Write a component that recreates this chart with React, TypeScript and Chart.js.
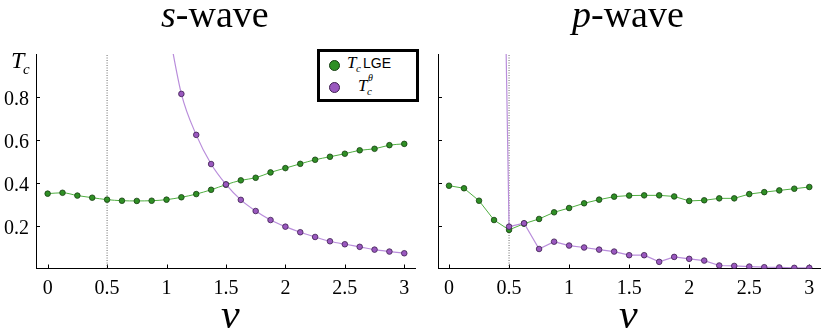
import React, { useEffect, useRef } from 'react';
import { Chart, registerables } from 'chart.js';

Chart.register(...registerables);

// ---------- data ----------
const vValues = [0, 0.125, 0.25, 0.375, 0.5, 0.625, 0.75, 0.875, 1, 1.125, 1.25, 1.375, 1.5, 1.625, 1.75, 1.875, 2, 2.125, 2.25, 2.375, 2.5, 2.625, 2.75, 2.875, 3];

const sWaveLge = [0.349, 0.353, 0.340, 0.330, 0.321, 0.316, 0.315, 0.316, 0.321, 0.332, 0.347, 0.367, 0.391, 0.411, 0.423, 0.448, 0.468, 0.488, 0.507, 0.521, 0.535, 0.551, 0.558, 0.575, 0.581];

// T_c^theta for s-wave: curve enters from the top near v ~ 1
const sThetaV = [1.0, 1.125, 1.25, 1.375, 1.5, 1.625, 1.75, 1.875, 2, 2.125, 2.25, 2.375, 2.5, 2.625, 2.75, 2.875, 3];
const sThetaT = [1.17, 0.814, 0.623, 0.487, 0.392, 0.320, 0.268, 0.226, 0.195, 0.169, 0.147, 0.127, 0.113, 0.101, 0.088, 0.079, 0.071];
const sThetaHidden = [true, false, false, false, false, false, false, false, false, false, false, false, false, false, false, false, false];

const pWaveLge = [0.386, 0.374, 0.316, 0.226, 0.180, 0.209, 0.231, 0.262, 0.282, 0.304, 0.321, 0.335, 0.340, 0.341, 0.341, 0.336, 0.315, 0.318, 0.327, 0.327, 0.347, 0.356, 0.364, 0.372, 0.380];

// T_c^theta for p-wave: diverges just below v = 0.5
const pThetaV = [0.47, 0.5, 0.625, 0.75, 0.875, 1, 1.125, 1.25, 1.375, 1.5, 1.625, 1.75, 1.875, 2, 2.125, 2.25, 2.375, 2.5, 2.625, 2.75, 2.875, 3];
const pThetaT = [1.2, 0.195, 0.211, 0.091, 0.125, 0.107, 0.098, 0.088, 0.079, 0.062, 0.062, 0.031, 0.054, 0.045, 0.037, 0.014, 0.012, 0.009, 0.006, 0.005, 0.003, 0.003];
const pThetaHidden = [true, false, false, false, false, false, false, false, false, false, false, false, false, false, false, false, false, false, false, false, false, false];

const criticalV = [0.5, 0.5];
const criticalT = [0, 1];

const xTickValues = [0, 0.5, 1, 1.5, 2, 2.5, 3];
const xTickLabels = ['0', '0.5', '1', '1.5', '2', '2.5', '3'];
const yTickValues = [0.2, 0.4, 0.6, 0.8];
const yTickLabels = ['0.2', '0.4', '0.6', '0.8'];

// ---------- styles ----------
const SERIF = "'Liberation Serif', 'Times New Roman', serif";
const SANS = "'Liberation Sans', Arial, sans-serif";
const GREEN_FILL = '#2f8f25';
const GREEN_EDGE = '#173f12';
const GREEN_LINE = '#4fae40';
const PURPLE_FILL = '#9a58bf';
const PURPLE_EDGE = '#3e2050';
const PURPLE_LINE = '#b98ddb';

const innerTicks = {
  id: 'innerTicks',
  beforeDatasetsDraw(chart: any) {
    const { ctx, chartArea, scales } = chart;
    ctx.save();
    ctx.strokeStyle = '#000';
    ctx.lineWidth = 1;
    for (const v of xTickValues) {
      const px = Math.round(scales.x.getPixelForValue(v)) + 0.5;
      ctx.beginPath();
      ctx.moveTo(px, chartArea.bottom);
      ctx.lineTo(px, chartArea.bottom - 4);
      ctx.stroke();
    }
    for (const v of yTickValues) {
      const py = Math.round(scales.y.getPixelForValue(v)) + 0.5;
      ctx.beginPath();
      ctx.moveTo(chartArea.left, py);
      ctx.lineTo(chartArea.left + 4, py);
      ctx.stroke();
    }
    ctx.restore();
  },
};

type PanelCfg = {
  lge: number[];
  thetaV: number[];
  thetaT: number[];
  thetaHidden: boolean[];
  smooth: boolean;
  xMin: number;
  xMax: number;
  yAxisWidth: number;
  showYLabels: boolean;
  padRight: number;
};

function buildChart(canvas: HTMLCanvasElement, cfg: PanelCfg) {
  const pointR = 2.8;
  return new Chart(canvas, {
    type: 'line',
    data: {
      datasets: [
        {
          label: 'critical',
          data: criticalV.map((v, i) => ({ x: v, y: criticalT[i] })),
          borderColor: 'rgba(90,90,90,0.9)',
          borderWidth: 1,
          borderDash: [1, 1.5],
          pointRadius: 0,
          order: 3,
        },
        {
          label: 'Tc LGE',
          data: vValues.map((v, i) => ({ x: v, y: cfg.lge[i] })),
          borderColor: GREEN_LINE,
          borderWidth: 1,
          pointRadius: pointR,
          pointBackgroundColor: GREEN_FILL,
          pointBorderColor: GREEN_EDGE,
          pointBorderWidth: 0.8,
          cubicInterpolationMode: cfg.smooth ? 'monotone' : 'default',
          tension: 0,
          order: 2,
        },
        {
          label: 'Tc theta',
          data: cfg.thetaV.map((v, i) => ({ x: v, y: cfg.thetaT[i] })),
          borderColor: PURPLE_LINE,
          borderWidth: 1.2,
          pointRadius: (ctx: any) => (cfg.thetaHidden[ctx.dataIndex] ? 0 : pointR),
          pointBackgroundColor: PURPLE_FILL,
          pointBorderColor: PURPLE_EDGE,
          pointBorderWidth: 0.8,
          cubicInterpolationMode: cfg.smooth ? 'monotone' : 'default',
          tension: 0,
          order: 1,
        },
      ],
    } as any,
    options: {
      animation: false,
      responsive: true,
      maintainAspectRatio: false,
      devicePixelRatio: 1,
      layout: { padding: { top: 54, right: cfg.padRight, left: 0, bottom: 0 } },
      plugins: { legend: { display: false }, tooltip: { enabled: false }, title: { display: false } },
      scales: {
        x: {
          type: 'linear',
          min: cfg.xMin,
          max: cfg.xMax,
          grid: { display: false, drawTicks: false },
          border: { display: true, color: '#000', width: 1 },
          afterBuildTicks: (scale: any) => {
            scale.ticks = xTickValues.map((v) => ({ value: v }));
          },
          afterFit: (scale: any) => {
            scale.height = 61.5;
          },
          ticks: {
            padding: 8,
            maxRotation: 0,
            autoSkip: false,
            color: '#000',
            font: { family: SERIF, size: 20 },
            callback: (value: any) => {
              const i = xTickValues.indexOf(Number(value));
              return i >= 0 ? xTickLabels[i] : '';
            },
          },
        },
        y: {
          type: 'linear',
          min: 0,
          max: 1.0,
          grid: { display: false, drawTicks: false },
          border: { display: true, color: '#000', width: 1 },
          afterBuildTicks: (scale: any) => {
            scale.ticks = yTickValues.map((v) => ({ value: v }));
          },
          afterFit: (scale: any) => {
            scale.width = cfg.yAxisWidth;
          },
          ticks: {
            display: cfg.showYLabels,
            padding: 7,
            labelOffset: 3,
            color: '#000',
            font: { family: SERIF, size: 20 },
            callback: (value: any) => {
              const i = yTickValues.indexOf(Number(value));
              return i >= 0 ? yTickLabels[i] : '';
            },
          },
        },
      },
    } as any,
    plugins: [innerTicks],
  });
}

function Panel(props: { cfg: PanelCfg; left: number; width: number }) {
  const ref = useRef<HTMLCanvasElement | null>(null);
  useEffect(() => {
    if (!ref.current) return;
    const chart = buildChart(ref.current, props.cfg);
    return () => chart.destroy();
  }, []);
  return (
    <div style={{ position: 'absolute', left: props.left, top: 0, width: props.width, height: 330 }}>
      <canvas ref={ref} />
    </div>
  );
}

// text piece positioned by its baseline
function Txt(props: {
  x: number;
  base: number;
  size: number;
  italic?: boolean;
  sans?: boolean;
  children: React.ReactNode;
}) {
  const k = props.sans ? 0.8465 : 0.8375;
  return (
    <div
      style={{
        position: 'absolute',
        left: props.x,
        top: props.base - k * props.size,
        fontSize: props.size,
        lineHeight: `${props.size}px`,
        fontFamily: props.sans ? SANS : SERIF,
        fontStyle: props.italic ? 'italic' : 'normal',
        whiteSpace: 'nowrap',
        color: '#000',
      }}
    >
      {props.children}
    </div>
  );
}

const leftCfg: PanelCfg = {
  lge: sWaveLge,
  thetaV: sThetaV,
  thetaT: sThetaT,
  thetaHidden: sThetaHidden,
  smooth: true,
  xMin: -0.098,
  xMax: 3.092,
  yAxisWidth: 36,
  showYLabels: true,
  padRight: 3,
};

const rightCfg: PanelCfg = {
  lge: pWaveLge,
  thetaV: pThetaV,
  thetaT: pThetaT,
  thetaHidden: pThetaHidden,
  smooth: false,
  xMin: -0.0916,
  xMax: 3.089,
  yAxisWidth: 18,
  showYLabels: false,
  padRight: 11,
};

export default function App() {
  return (
    <div
      style={{
        position: 'absolute',
        left: 0,
        top: 0,
        width: 831,
        height: 330,
        overflow: 'hidden',
        background: '#fff',
      }}
    >
      <Panel cfg={leftCfg} left={0} width={420} />
      <Panel cfg={rightCfg} left={420} width={411} />

      {/* titles */}
      <Txt x={161} base={27} size={38}>
        <span style={{ fontStyle: 'italic' }}>s</span>-wave
      </Txt>
      <Txt x={572} base={27} size={38}>
        <span style={{ fontStyle: 'italic' }}>p</span>-wave
      </Txt>

      {/* x-axis labels */}
      <Txt x={221} base={328} size={42} italic>
        v
      </Txt>
      <Txt x={619} base={328} size={42} italic>
        v
      </Txt>

      {/* y-axis label T_c */}
      <Txt x={11} base={68} size={24} italic>
        T
      </Txt>
      <Txt x={23} base={75} size={15} italic>
        c
      </Txt>

      {/* legend */}
      <div
        style={{
          position: 'absolute',
          left: 317,
          top: 49,
          width: 102,
          height: 53,
          boxSizing: 'border-box',
          border: '3px solid #000',
          background: '#fff',
        }}
      />
      <div
        style={{
          position: 'absolute',
          left: 329,
          top: 59.5,
          width: 11,
          height: 11,
          borderRadius: '50%',
          boxSizing: 'border-box',
          background: GREEN_FILL,
          border: `1px solid ${GREEN_EDGE}`,
        }}
      />
      <div
        style={{
          position: 'absolute',
          left: 329,
          top: 81.5,
          width: 11,
          height: 11,
          borderRadius: '50%',
          boxSizing: 'border-box',
          background: PURPLE_FILL,
          border: `1px solid ${PURPLE_EDGE}`,
        }}
      />
      <Txt x={347} base={68} size={17} italic>
        T
      </Txt>
      <Txt x={356} base={72} size={11} italic>
        c
      </Txt>
      <Txt x={363} base={68} size={14} sans>
        LGE
      </Txt>
      <Txt x={358} base={91} size={17} italic>
        T
      </Txt>
      <Txt x={367} base={95} size={11} italic>
        c
      </Txt>
      <Txt x={368} base={81} size={10} italic>
        θ
      </Txt>
    </div>
  );
}
